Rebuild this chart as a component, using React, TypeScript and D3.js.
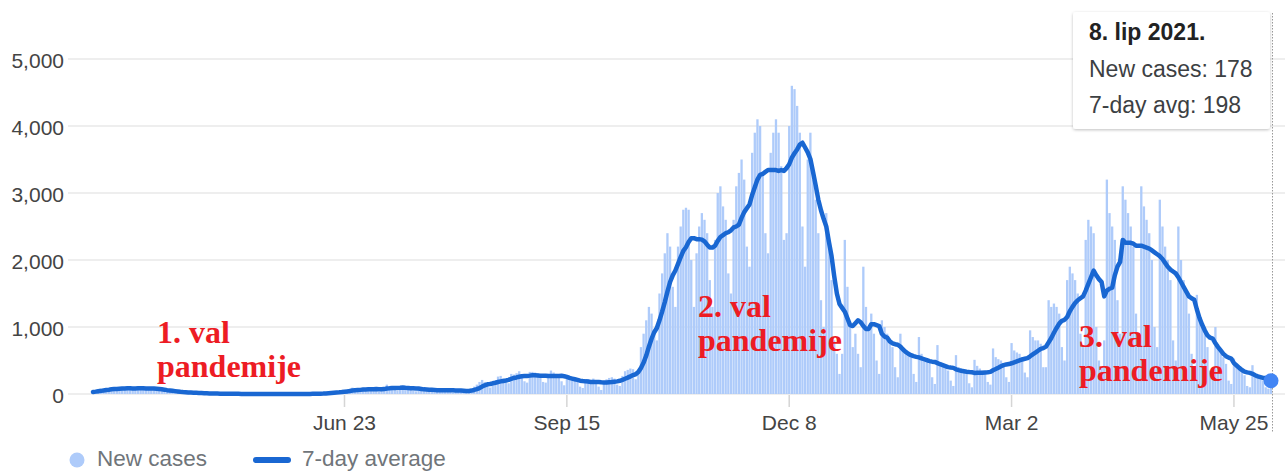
import { useRef, useEffect } from "react";
import * as d3 from "d3";

// daily new cases, one row per week (Mon..Sun), first row starts 2020-03-09
const firstDay = "2020-03-09";
const chartStart = "2020-03-20";
const chartEnd = "2021-06-08";

const dailyCases = [
  3, 4, 6, 9, 12, 20, 25,
  18, 25, 32, 40, 50, 58, 72,
  52, 67, 78, 71, 91, 86, 69,
  77, 96, 84, 95, 92, 74, 62,
  88, 96, 90, 84, 92, 70, 64,
  56, 66, 60, 47, 38, 40, 27,
  22, 30, 24, 20, 21, 16, 18,
  8, 12, 10, 9, 6, 7, 4,
  3, 5, 8, 4, 6, 2, 1,
  1, 2, 3, 1, 2, 0, 1,
  0, 1, 2, 1, 0, 1, 0,
  0, 1, 1, 0, 2, 1, 0,
  0, 1, 0, 2, 1, 3, 2,
  1, 0, 3, 5, 6, 8, 12,
  10, 18, 26, 30, 34, 38, 22,
  35, 52, 60, 67, 95, 66, 39,
  52, 80, 76, 78, 96, 71, 59,
  34, 76, 98, 140, 116, 99, 62,
  48, 90, 120, 110, 94, 80, 52,
  40, 80, 72, 66, 84, 55, 35,
  26, 60, 64, 70, 80, 58, 30,
  22, 42, 55, 68, 57, 41, 32,
  60, 110, 140, 180, 210, 180, 130,
  96, 180, 200, 260, 270, 230, 170,
  160, 300, 290, 310, 340, 290, 190,
  170, 330, 330, 320, 310, 260, 180,
  170, 300, 350, 320, 300, 270, 190,
  130, 230, 240, 250, 230, 200, 110,
  90, 200, 220, 210, 230, 190, 110,
  60, 180, 220, 240, 250, 230, 140,
  120, 270, 340, 360, 380, 370, 220,
  350, 700, 900, 1100, 1300, 1200, 900,
  800, 1500, 1800, 2100, 2400, 2200, 1600,
  1300, 2200, 2500, 2750, 2780, 2750, 2000,
  1300, 2100, 2500, 2700, 2600, 2400, 1700,
  1300, 2300, 3000, 3100, 2800, 2600, 1800,
  1500, 2600, 3100, 3300, 3500, 3200, 2200,
  1900, 3600, 3900, 4100, 4000, 3300, 2400,
  2100, 3600, 3900, 4100, 3900, 3400, 2300,
  2400, 4000, 4600, 4550, 4300, 3900, 2500,
  1900, 3500, 3900, 3200, 2900, 2400, 1400,
  1000, 2700, 2300, 1700, 800, 600, 300,
  600, 2300, 1600, 1000, 700, 900, 600,
  400, 1900, 1300, 1000, 1200, 900, 500,
  300, 1100, 1000, 900, 800, 700, 400,
  250, 900, 700, 650, 600, 550, 300,
  180, 850, 600, 550, 500, 450, 250,
  150, 730, 480, 450, 400, 350, 200,
  120, 580, 400, 380, 350, 300, 160,
  100, 510, 420, 380, 350, 330, 180,
  140, 680, 550, 520, 500, 450, 250,
  180, 760, 650, 620, 600, 550, 320,
  250, 950, 850, 800, 800, 750, 400,
  400, 1400, 1300, 1350, 1300, 1200, 700,
  500, 1700, 1900, 1800, 1700, 1500, 900,
  700, 2300, 2600, 2500, 2400, 1000, 500,
  400, 800, 3200, 2700, 2500, 2300, 1400,
  900, 3100, 2900, 2700, 2500, 2200, 1200,
  900, 3100, 2800, 2600, 2400, 2000, 1000,
  700, 2900, 2500, 2200, 2000, 1700, 800,
  500, 2500, 2000, 1700, 1500, 1200, 600,
  350, 1480, 1100, 1000, 900, 700, 350,
  250, 1000, 700, 650, 550, 450, 200,
  150, 530, 450, 400, 330, 280, 120,
  100, 430, 300, 280, 250, 200, 100,
  80, 178,
];

const yTicks = [0, 1000, 2000, 3000, 4000, 5000];
const xTickDates = ["2020-06-23", "2020-09-15", "2020-12-08", "2021-03-02", "2021-05-25"];
const waveLabels = [
  ["1. val", "pandemije"],
  ["2. val", "pandemije"],
  ["3. val", "pandemije"],
];
const legendItems = ["New cases", "7-day average"];
const tooltipTitle = "8. lip 2021.";

const sans = "'Liberation Sans', Arial, sans-serif";

export default function App() {
  const ref = useRef<SVGSVGElement>(null);

  useEffect(() => {
    const parse = d3.timeParse("%Y-%m-%d");
    const svg = d3.select(ref.current);
    svg.selectAll("*").remove();

    const t0 = parse(firstDay)!;
    const rows = dailyCases.map((v, i) => ({
      date: d3.timeDay.offset(t0, i),
      cases: v,
      avg: d3.mean(dailyCases.slice(Math.max(0, i - 6), i + 1))!,
    }));
    const start = parse(chartStart)!;
    const end = parse(chartEnd)!;
    const shown = rows.filter((d) => d.date >= start && d.date <= end);
    const last = shown[shown.length - 1];

    const x = d3.scaleTime().domain([start, end]).range([93, 1271]);
    const y = d3.scaleLinear().domain([0, 5000]).range([394, 59]);

    // grid + y labels
    svg
      .append("g")
      .selectAll("line")
      .data(yTicks)
      .join("line")
      .attr("x1", 68)
      .attr("x2", 1285)
      .attr("y1", (d) => y(d))
      .attr("y2", (d) => y(d))
      .attr("stroke", "#eeeeee")
      .attr("stroke-width", 2);

    svg
      .append("g")
      .selectAll("text")
      .data(yTicks)
      .join("text")
      .attr("x", 64)
      .attr("y", (d) => y(d) + 9)
      .attr("text-anchor", "end")
      .attr("font-family", sans)
      .attr("font-size", 21)
      .attr("fill", "#444")
      .text((d) => d3.format(",")(d));

    // bars
    const bw = 2.3;
    svg
      .append("g")
      .selectAll("rect")
      .data(shown)
      .join("rect")
      .attr("x", (d) => x(d.date) - bw / 2)
      .attr("y", (d) => y(d.cases))
      .attr("width", bw)
      .attr("height", (d) => y(0) - y(d.cases))
      .attr("fill", "#aecbfa");

    // x ticks
    const tickG = svg.append("g");
    const ticks = xTickDates.map((s) => parse(s)!);
    tickG
      .selectAll("line")
      .data(ticks)
      .join("line")
      .attr("x1", (d) => x(d))
      .attr("x2", (d) => x(d))
      .attr("y1", 395)
      .attr("y2", 407)
      .attr("stroke", "#d5d5d5")
      .attr("stroke-width", 1.5);
    tickG
      .selectAll("text")
      .data(ticks)
      .join("text")
      .attr("x", (d) => x(d))
      .attr("y", 430)
      .attr("text-anchor", "middle")
      .attr("font-family", sans)
      .attr("font-size", 21)
      .attr("fill", "#444")
      .text((d) => d3.timeFormat("%b %-d")(d));

    // 7-day average line
    const line = d3
      .line<any>()
      .x((d) => x(d.date))
      .y((d) => y(d.avg));
    svg
      .append("path")
      .datum(shown)
      .attr("d", line)
      .attr("fill", "none")
      .attr("stroke", "#1967d2")
      .attr("stroke-width", 4.5)
      .attr("stroke-linejoin", "round")
      .attr("stroke-linecap", "round");

    // annotations
    const annPos = [
      [157, 343],
      [698, 317],
      [1079, 347],
    ];
    const ann = svg
      .append("g")
      .selectAll("text")
      .data(waveLabels)
      .join("text")
      .attr("font-family", "'Liberation Serif', 'Times New Roman', serif")
      .attr("font-weight", "bold")
      .attr("font-size", 32)
      .attr("fill", "#ed1c24");
    ann
      .selectAll("tspan")
      .data((d, i) => d.map((t) => ({ t, i })))
      .join("tspan")
      .attr("x", (d) => annPos[d.i][0])
      .attr("y", (d, j) => annPos[d.i][1] + j * 34)
      .text((d) => d.t);

    // hover marker
    svg
      .append("line")
      .attr("x1", x(last.date) + 1.5)
      .attr("x2", x(last.date) + 1.5)
      .attr("y1", 13)
      .attr("y2", 433)
      .attr("stroke", "#999")
      .attr("stroke-width", 1)
      .attr("stroke-dasharray", "1.5,1.5");
    svg
      .append("circle")
      .attr("cx", x(last.date))
      .attr("cy", y(last.avg))
      .attr("r", 7.5)
      .attr("fill", "#4285f4");

    // tooltip
    const defs = svg.append("defs");
    const f = defs.append("filter").attr("id", "shadow").attr("x", "-10%").attr("y", "-10%").attr("width", "120%").attr("height", "130%");
    f.append("feDropShadow").attr("dx", 0).attr("dy", 1).attr("stdDeviation", 1.5).attr("flood-color", "#000").attr("flood-opacity", 0.25);
    const tip = svg.append("g");
    tip
      .append("rect")
      .attr("x", 1073)
      .attr("y", 12)
      .attr("width", 197)
      .attr("height", 117)
      .attr("rx", 3)
      .attr("fill", "#fff")
      .attr("filter", "url(#shadow)");
    const tipLines = [
      tooltipTitle,
      `New cases: ${last.cases}`,
      `7-day avg: ${Math.round(last.avg)}`,
    ];
    tip
      .selectAll("text")
      .data(tipLines)
      .join("text")
      .attr("x", 1089)
      .attr("y", (d, i) => 40 + i * 36.5)
      .attr("font-family", sans)
      .attr("font-size", 23)
      .attr("font-weight", (d, i) => (i === 0 ? "bold" : "normal"))
      .attr("fill", (d, i) => (i === 0 ? "#222" : "#3c4043"))
      .text((d) => d);

    // legend
    const lg = svg.append("g");
    lg.append("circle").attr("cx", 77).attr("cy", 460).attr("r", 7.5).attr("fill", "#aecbfa");
    lg.append("line")
      .attr("x1", 256)
      .attr("x2", 288)
      .attr("y1", 460)
      .attr("y2", 460)
      .attr("stroke", "#1967d2")
      .attr("stroke-width", 6)
      .attr("stroke-linecap", "round");
    lg.selectAll("text")
      .data(legendItems)
      .join("text")
      .attr("x", (d, i) => (i === 0 ? 97 : 302))
      .attr("y", 466)
      .attr("font-family", sans)
      .attr("font-size", 22.5)
      .attr("fill", "#70757a")
      .text((d) => d);
  }, []);

  return (
    <svg
      ref={ref}
      width={1285}
      height={472}
      style={{ position: "absolute", left: 0, top: 0, background: "#fff" }}
    />
  );
}
